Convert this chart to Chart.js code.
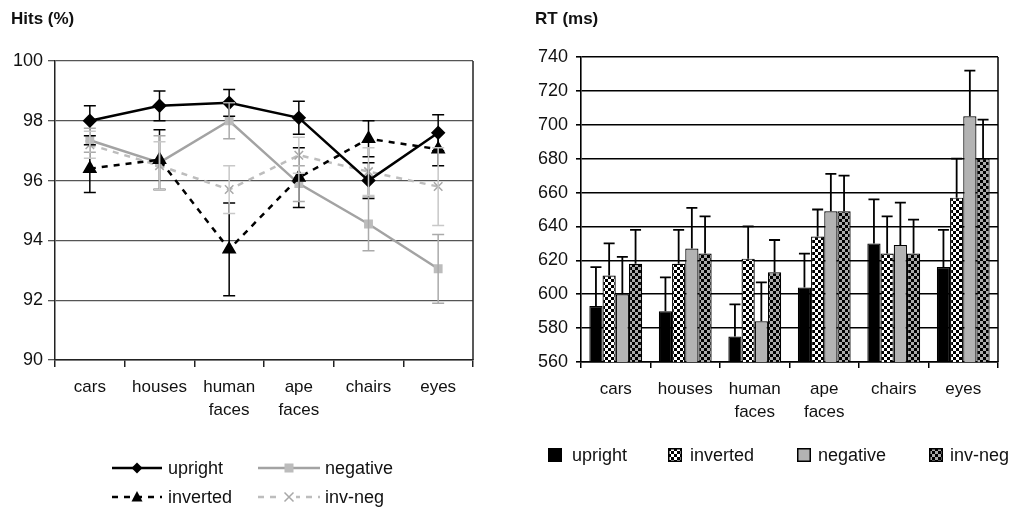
<!DOCTYPE html>
<html>
<head>
<meta charset="utf-8">
<script src="https://cdn.jsdelivr.net/npm/chart.js@4.4.1/dist/chart.umd.min.js"></script>
<style>
body { margin: 0; width: 1020px; height: 515px; background: #fff; position: relative; overflow: hidden; font-family: "Liberation Sans", Arial, sans-serif; color: #111; }
#hits { position: absolute; left: 0; top: 0; }
#rt { position: absolute; left: 500px; top: 0; }
.ttl { position: absolute; font-weight: bold; font-size: 17px; }
.lg { position: absolute; font-size: 18px; height: 22px; line-height: 22px; white-space: nowrap; }
.sw { position: absolute; }
</style>
</head>
<body>
<canvas id="hits" width="500" height="515"></canvas>
<canvas id="rt" width="520" height="515"></canvas>

<div class="ttl" style="left:11px;top:9px;">Hits (%)</div>
<div class="ttl" style="left:535px;top:9px;">RT (ms)</div>

<!-- left legend -->
<canvas class="sw" id="lgUp" width="50" height="16" style="left:112px;top:460px;"></canvas>
<div class="lg" style="left:168px;top:457px;">upright</div>
<canvas class="sw" id="lgNeg" width="62" height="16" style="left:258px;top:460px;"></canvas>
<div class="lg" style="left:325px;top:457px;">negative</div>
<canvas class="sw" id="lgInv" width="50" height="16" style="left:112px;top:489px;"></canvas>
<div class="lg" style="left:168px;top:486px;">inverted</div>
<canvas class="sw" id="lgIN" width="62" height="16" style="left:258px;top:489px;"></canvas>
<div class="lg" style="left:325px;top:486px;">inv-neg</div>

<!-- right legend -->
<canvas class="sw" id="bxUp" width="14" height="14" style="left:548px;top:448px;"></canvas>
<div class="lg" style="left:572px;top:444px;">upright</div>
<canvas class="sw" id="bxInv" width="14" height="14" style="left:668px;top:448px;"></canvas>
<div class="lg" style="left:690px;top:444px;">inverted</div>
<canvas class="sw" id="bxNeg" width="14" height="14" style="left:797px;top:448px;"></canvas>
<div class="lg" style="left:818px;top:444px;">negative</div>
<canvas class="sw" id="bxIN" width="14" height="14" style="left:929px;top:448px;"></canvas>
<div class="lg" style="left:950px;top:444px;">inv-neg</div>

<script>
const categories = [['cars'], ['houses'], ['human', 'faces'], ['ape', 'faces'], ['chairs'], ['eyes']];

// Hits (%)
const hitsUpright = [98.0, 98.5, 98.6, 98.1, 96.0, 97.6];
const hitsUprightErr = [0.5, 0.5, 0.45, 0.55, 0.6, 0.6];
const hitsInverted = [96.4, 96.7, 93.7, 96.1, 97.4, 97.05];
const hitsInvertedErr = [0.8, 1.0, 1.55, 1.0, 0.6, 0.55];
const hitsNegative = [97.35, 96.6, 98.0, 95.9, 94.55, 93.05];
const hitsNegativeErr = [0.4, 0.9, 0.6, 0.6, 0.9, 1.15];
const hitsInvNeg = [97.2, 96.5, 95.7, 96.85, 96.3, 95.8];
const hitsInvNegErr = [0.45, 0.8, 0.8, 0.6, 0.8, 1.3];
const hitsTicks = { min: 90, max: 100, step: 2 };

// RT (ms)
const rtUpright = [593, 590, 575, 604, 630, 616];
const rtUprightErr = [23, 20, 19, 20, 26, 22];
const rtInverted = [611, 618, 621, 634, 624, 657];
const rtInvertedErr = [19, 20, 19, 16, 22, 23];
const rtNegative = [600, 627, 584, 649, 629, 705];
const rtNegativeErr = [22, 24, 23, 22, 25, 27];
const rtInvNeg = [618, 624, 613, 649, 624, 680];
const rtInvNegErr = [20, 22, 19, 21, 20, 23];
const rtTicks = { min: 560, max: 740, step: 20 };

const FONT = '"Liberation Sans", Arial, sans-serif';

const checker = (bg, fg) => {
    let c = document.createElement('canvas');
    c.width = 6; c.height = 6;
    let g = c.getContext('2d');
    g.fillStyle = bg; g.fillRect(0, 0, 6, 6);
    g.fillStyle = fg; g.fillRect(0, 0, 3, 3); g.fillRect(3, 3, 3, 3);
    return g.createPattern(c, 'repeat');
};
const invPattern = checker('#ffffff', '#000000');
const invNegPattern = checker('#aaaaaa', '#000000');

// error bars read from each dataset's "errors" array, placed with the y scale
const errorBars = {
    id: 'errorBars',
    afterDatasetsDraw(chart, args, opts) {
        const ctx = chart.ctx;
        const y = chart.scales.y;
        chart.data.datasets.forEach((ds, i) => {
            if (!ds.errors) return;
            const meta = chart.getDatasetMeta(i);
            ctx.save();
            ctx.strokeStyle = ds.errorColor || '#000';
            ctx.lineWidth = opts.width;
            meta.data.forEach((el, j) => {
                const v = ds.data[j], e = ds.errors[j];
                const top = y.getPixelForValue(v + e);
                const bot = y.getPixelForValue(opts.upOnly ? v : v - e);
                const x = el.x;
                ctx.beginPath();
                ctx.moveTo(x, top); ctx.lineTo(x, bot);
                ctx.moveTo(x - opts.cap, top); ctx.lineTo(x + opts.cap, top);
                if (!opts.upOnly) { ctx.moveTo(x - opts.cap, bot); ctx.lineTo(x + opts.cap, bot); }
                ctx.stroke();
            });
            ctx.restore();
        });
    }
};

// right edge of the plot frame
const frame = {
    id: 'frame',
    afterDraw(chart, args, opts) {
        const a = chart.chartArea, ctx = chart.ctx;
        ctx.save();
        ctx.strokeStyle = opts.color;
        ctx.lineWidth = opts.width;
        ctx.beginPath();
        ctx.moveTo(a.right, a.top); ctx.lineTo(a.right, a.bottom);
        ctx.stroke();
        ctx.restore();
    }
};

Chart.register(errorBars, frame);

let hitsChart = new Chart(document.getElementById('hits'), {
    type: 'line',
    data: {
        labels: categories,
        datasets: [
            { label: 'upright', data: hitsUpright, errors: hitsUprightErr, errorColor: '#000',
              borderColor: '#000', backgroundColor: '#000', borderWidth: 2.5,
              pointStyle: 'rectRot', pointRadius: 5.5, tension: 0 },
            { label: 'inverted', data: hitsInverted, errors: hitsInvertedErr, errorColor: '#000',
              borderColor: '#000', backgroundColor: '#000', borderWidth: 2.5, borderDash: [6, 6],
              pointStyle: 'triangle', pointRadius: 6, tension: 0 },
            { label: 'negative', data: hitsNegative, errors: hitsNegativeErr, errorColor: '#aaaaaa',
              borderColor: '#a3a3a3', backgroundColor: '#bcbcbc', pointBorderColor: '#bcbcbc', borderWidth: 2.5,
              pointStyle: 'rect', pointRadius: 4.5, tension: 0 },
            { label: 'inv-neg', data: hitsInvNeg, errors: hitsInvNegErr, errorColor: '#c8c8c8',
              borderColor: '#bdbdbd', backgroundColor: '#a8a8a8', pointBorderColor: '#a8a8a8', borderWidth: 2.5, borderDash: [6, 6],
              pointStyle: 'crossRot', pointRadius: 6, pointBorderWidth: 1.5, tension: 0 }
        ]
    },
    options: {
        responsive: false,
        animation: false,
        layout: { padding: { top: 61, right: 27, bottom: 96, left: 0 } },
        plugins: {
            legend: { display: false },
            tooltip: { enabled: false },
            errorBars: { cap: 6, width: 1.5 },
            frame: { color: '#222', width: 1.5 }
        },
        scales: {
            x: {
                offset: true,
                grid: { offset: true, drawOnChartArea: false, tickLength: 7, color: '#222', lineWidth: 1.5 },
                border: { color: '#222', width: 1.5 },
                ticks: { color: '#111', font: { family: FONT, size: 17, lineHeight: 1.35 }, padding: 9, maxRotation: 0, autoSkip: false },
                afterFit: (s) => { s.height = 59; }
            },
            y: {
                min: hitsTicks.min, max: hitsTicks.max,
                grid: { color: '#555', lineWidth: 1.3, tickLength: 7 },
                border: { color: '#222', width: 1.5 },
                ticks: { stepSize: hitsTicks.step, color: '#111', font: { family: FONT, size: 18 }, padding: 5 },
                afterFit: (s) => { s.width = 55; }
            }
        }
    }
});

let rtChart = new Chart(document.getElementById('rt'), {
    type: 'bar',
    data: {
        labels: categories,
        datasets: [
            { label: 'upright', data: rtUpright, errors: rtUprightErr, backgroundColor: '#000' },
            { label: 'inverted', data: rtInverted, errors: rtInvertedErr, backgroundColor: invPattern },
            { label: 'negative', data: rtNegative, errors: rtNegativeErr, backgroundColor: '#b3b3b3' },
            { label: 'inv-neg', data: rtInvNeg, errors: rtInvNegErr, backgroundColor: invNegPattern }
        ]
    },
    options: {
        responsive: false,
        animation: false,
        datasets: { bar: { borderColor: '#000', borderWidth: 1.2, barPercentage: 1, categoryPercentage: 0.76 } },
        layout: { padding: { top: 57, right: 22, bottom: 94, left: 0 } },
        plugins: {
            legend: { display: false },
            tooltip: { enabled: false },
            errorBars: { cap: 5.5, width: 1.8, upOnly: true },
            frame: { color: '#000', width: 1.5 }
        },
        scales: {
            x: {
                grid: { offset: true, drawOnChartArea: false, tickLength: 6, color: '#000', lineWidth: 1.5 },
                border: { color: '#000', width: 1.5 },
                ticks: { color: '#111', font: { family: FONT, size: 17, lineHeight: 1.35 }, padding: 10, maxRotation: 0, autoSkip: false },
                afterFit: (s) => { s.height = 59; }
            },
            y: {
                min: rtTicks.min, max: rtTicks.max,
                grid: { color: '#000', lineWidth: 1.6, tickLength: 5 },
                border: { color: '#000', width: 1.6 },
                ticks: { stepSize: rtTicks.step, color: '#111', font: { family: FONT, size: 18 }, padding: 8 },
                afterFit: (s) => { s.width = 81; }
            }
        }
    }
});

// legend swatches
const lineSample = (id, color, dash, marker, mcolor) => {
    let c = document.getElementById(id), g = c.getContext('2d');
    let w = c.width, h = c.height, cx = w / 2, cy = h / 2;
    g.strokeStyle = color; g.lineWidth = 2.5; g.setLineDash(dash);
    g.beginPath(); g.moveTo(0, cy); g.lineTo(w, cy); g.stroke();
    g.setLineDash([]);
    g.fillStyle = mcolor; g.strokeStyle = mcolor;
    g.beginPath();
    if (marker === 'diamond') { g.moveTo(cx, cy - 5.5); g.lineTo(cx + 5.5, cy); g.lineTo(cx, cy + 5.5); g.lineTo(cx - 5.5, cy); g.fill(); }
    if (marker === 'triangle') { g.moveTo(cx, cy - 6); g.lineTo(cx + 5.5, cy + 4.5); g.lineTo(cx - 5.5, cy + 4.5); g.fill(); }
    if (marker === 'square') { g.fillRect(cx - 4.5, cy - 4.5, 9, 9); }
    if (marker === 'x') { g.clearRect(cx - 7, 0, 14, h); g.lineWidth = 1.5; g.moveTo(cx - 4.5, cy - 4.5); g.lineTo(cx + 4.5, cy + 4.5); g.moveTo(cx + 4.5, cy - 4.5); g.lineTo(cx - 4.5, cy + 4.5); g.stroke(); }
};
lineSample('lgUp', '#000', [], 'diamond', '#000');
lineSample('lgInv', '#000', [6, 6], 'triangle', '#000');
lineSample('lgNeg', '#a3a3a3', [], 'square', '#bcbcbc');
lineSample('lgIN', '#bdbdbd', [6, 6], 'x', '#a8a8a8');

const boxSample = (id, fill) => {
    let c = document.getElementById(id), g = c.getContext('2d');
    g.fillStyle = fill; g.fillRect(0, 0, 14, 14);
    g.strokeStyle = '#000'; g.lineWidth = 1.5; g.strokeRect(0.75, 0.75, 12.5, 12.5);
};
boxSample('bxUp', '#000');
boxSample('bxInv', invPattern);
boxSample('bxNeg', '#b3b3b3');
boxSample('bxIN', invNegPattern);
</script>
</body>
</html>
